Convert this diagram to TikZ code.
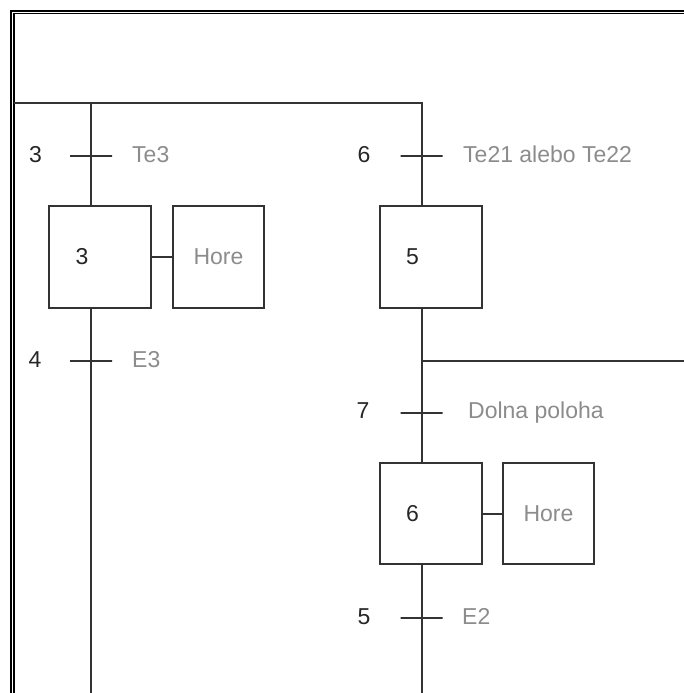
\documentclass[tikz,border=0pt]{standalone}
\usepackage{fontspec}
\setmainfont{Liberation Sans}
\begin{document}
\begin{tikzpicture}[x=1pt,y=-1pt,
  txtfont/.style={font=\fontsize{23}{23}\selectfont},
  line/.style={draw=black!80, line width=2pt},
  framel/.style={draw=black, line width=2pt},
  framei/.style={draw=black, line width=1.5pt},
  stepbox/.style={draw=black!80, line width=2pt, minimum width=102pt, minimum height=102pt, inner sep=0pt},
  actbox/.style={draw=black!80, line width=2pt, minimum width=91pt, minimum height=102pt, inner sep=0pt, txtfont, text=black!45},
  trbar/.style={draw=black!80, line width=2pt, minimum width=42pt, minimum height=0pt, inner sep=0pt, rectangle},
  cond/.style={anchor=base west, inner sep=0pt, txtfont, text=black!45},
  tnum/.style={anchor=base, inner sep=0pt, txtfont, text=black!85},
  snum/.style={txtfont, text=black!85, inner sep=0pt}]
\useasboundingbox (0,0) rectangle (684,693);
% frame
\draw[framel] (11,693) -- (11,11) -- (684,11);
\draw[framei] (13.75,693) -- (13.75,13.75) -- (684,13.75);
% coordinates
\coordinate (tl) at (13.5,103);
\coordinate (tlv) at (91,103);
\coordinate (tr) at (421.5,103);
\coordinate (lb) at (91,693);
\coordinate (rb) at (421.5,693);
\coordinate (j) at (421.5,360.5);
\coordinate (jr) at (684,360.5);
% transitions
\node[trbar] (t3) at (91,155.5) {};
\node[trbar] (t4) at (91,360.5) {};
\node[trbar] (t6) at (421.5,155.5) {};
\node[trbar] (t7) at (421.5,412.5) {};
\node[trbar] (t5) at (421.5,617.5) {};
% steps and actions
\node[stepbox, label={[snum, xshift=-18pt]center:3}] (s3) at (100,257) {};
\node[actbox] (a3) at (218.5,257) {Hore};
\node[stepbox, label={[snum, xshift=-18pt]center:5}] (s5) at (430.5,257) {};
\node[stepbox, minimum height=101pt, label={[snum, xshift=-18pt]center:6}] (s6) at (430.5,513.5) {};
\node[actbox, minimum height=101pt] (a6) at (548.5,513.5) {Hore};
% transition labels
\node[tnum] (n3) at (35.5,162) {3};
\node[cond] (c3) at (132,162) {Te3};
\node[tnum] (n4) at (35,367) {4};
\node[cond] (c4) at (132,367) {E3};
\node[tnum] (n6) at (364,162) {6};
\node[cond] (c6) at (463,162) {Te21 alebo Te22};
\node[tnum] (n7) at (363,418) {7};
\node[cond] (c7) at (468,418) {Dolna poloha};
\node[tnum] (n5) at (364,624.5) {5};
\node[cond] (c5) at (462,624.5) {E2};
% connectors
\draw[line] (tl) -- (tr) -- (t6.center) -- (s5.north -| t6.center);
\draw[line] (tlv) -- (t3.center) -- (s3.north -| t3.center);
\draw[line] (s3.south -| t3.center) -- (t4.center) -- (lb);
\draw[line] (s5.south -| t6.center) -- (j) -- (t7.center) -- (s6.north -| t7.center);
\draw[line] (j) -- (jr);
\draw[line] (s6.south -| t7.center) -- (t5.center) -- (rb);
\draw[line] (s3) -- (a3);
\draw[line] (s6) -- (a6);
\end{tikzpicture}
\end{document}
